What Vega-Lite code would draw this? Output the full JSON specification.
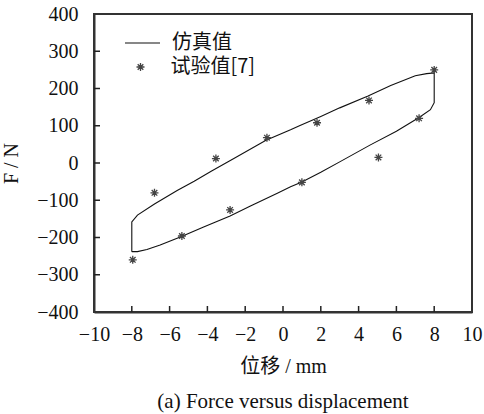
{
  "$schema": "https://vega.github.io/schema/vega-lite/v6.json",
  "width": 378,
  "height": 298,
  "autosize": {"type": "none"},
  "padding": {"left": 94, "top": 14, "right": 12, "bottom": 102},
  "background": "white",
  "title": {
    "text": "(a) Force versus displacement",
    "orient": "bottom",
    "anchor": "middle",
    "font": "Liberation Serif",
    "fontSize": 21,
    "fontWeight": "normal",
    "color": "#111",
    "offset": 15
  },
  "config": {
    "view": {"stroke": "#333", "strokeWidth": 2},
    "axis": {
      "grid": false,
      "ticks": false,
      "domainColor": "#333",
      "domainWidth": 2,
      "labelFont": "Liberation Serif",
      "labelFontSize": 20,
      "labelColor": "#111",
      "titleFont": "Liberation Serif, Noto Sans CJK SC",
      "titleFontSize": 20,
      "titleFontWeight": "normal",
      "titleColor": "#111"
    },
    "legend": {
      "orient": "none",
      "padding": 0,
      "labelFont": "Noto Sans CJK SC",
      "labelFontSize": 20,
      "labelColor": "#111"
    }
  },
  "datasets": {
    "simulated": [
      {"i": 0, "x": -8.0, "y": -238, "series": "仿真值"},
      {"i": 1, "x": -8.0, "y": -158, "series": "仿真值"},
      {"i": 2, "x": -7.7, "y": -140, "series": "仿真值"},
      {"i": 3, "x": -6.8, "y": -110, "series": "仿真值"},
      {"i": 4, "x": -5.6, "y": -74, "series": "仿真值"},
      {"i": 5, "x": -4.7, "y": -49, "series": "仿真值"},
      {"i": 6, "x": -3.8, "y": -22, "series": "仿真值"},
      {"i": 7, "x": -2.6, "y": 12, "series": "仿真值"},
      {"i": 8, "x": -0.9, "y": 61, "series": "仿真值"},
      {"i": 9, "x": 0.4, "y": 89, "series": "仿真值"},
      {"i": 10, "x": 0.9, "y": 101, "series": "仿真值"},
      {"i": 11, "x": 2.0, "y": 125, "series": "仿真值"},
      {"i": 12, "x": 3.0, "y": 148, "series": "仿真值"},
      {"i": 13, "x": 4.5, "y": 180, "series": "仿真值"},
      {"i": 14, "x": 5.7, "y": 208, "series": "仿真值"},
      {"i": 15, "x": 7.0, "y": 234, "series": "仿真值"},
      {"i": 16, "x": 7.6, "y": 240, "series": "仿真值"},
      {"i": 17, "x": 8.0, "y": 242, "series": "仿真值"},
      {"i": 18, "x": 8.0, "y": 162, "series": "仿真值"},
      {"i": 19, "x": 7.8, "y": 143, "series": "仿真值"},
      {"i": 20, "x": 7.2, "y": 122, "series": "仿真值"},
      {"i": 21, "x": 6.0, "y": 85, "series": "仿真值"},
      {"i": 22, "x": 4.6, "y": 48, "series": "仿真值"},
      {"i": 23, "x": 3.0, "y": 3, "series": "仿真值"},
      {"i": 24, "x": 2.0, "y": -25, "series": "仿真值"},
      {"i": 25, "x": 1.0, "y": -51, "series": "仿真值"},
      {"i": 26, "x": 0.4, "y": -64, "series": "仿真值"},
      {"i": 27, "x": -0.3, "y": -81, "series": "仿真值"},
      {"i": 28, "x": -1.75, "y": -116, "series": "仿真值"},
      {"i": 29, "x": -2.8, "y": -142, "series": "仿真值"},
      {"i": 30, "x": -4.2, "y": -172, "series": "仿真值"},
      {"i": 31, "x": -5.4, "y": -198, "series": "仿真值"},
      {"i": 32, "x": -6.5, "y": -220, "series": "仿真值"},
      {"i": 33, "x": -7.2, "y": -232, "series": "仿真值"},
      {"i": 34, "x": -7.7, "y": -238, "series": "仿真值"},
      {"i": 35, "x": -8.0, "y": -238, "series": "仿真值"}
    ],
    "measured": [
      {"x": -7.95, "y": -260, "series": "试验值"},
      {"x": -6.8, "y": -80, "series": "试验值"},
      {"x": -5.35, "y": -196, "series": "试验值"},
      {"x": -3.55, "y": 12, "series": "试验值"},
      {"x": -2.8, "y": -126, "series": "试验值"},
      {"x": -0.85, "y": 68, "series": "试验值"},
      {"x": 1.0, "y": -52, "series": "试验值"},
      {"x": 1.8, "y": 108, "series": "试验值"},
      {"x": 4.55, "y": 168, "series": "试验值"},
      {"x": 5.05, "y": 15, "series": "试验值"},
      {"x": 7.2, "y": 120, "series": "试验值"},
      {"x": 8.0, "y": 250, "series": "试验值"}
    ],
    "xTicks": [
      {"x": -8, "y": -400}, {"x": -6, "y": -400}, {"x": -4, "y": -400},
      {"x": -2, "y": -400}, {"x": 0, "y": -400}, {"x": 2, "y": -400},
      {"x": 4, "y": -400}, {"x": 6, "y": -400}, {"x": 8, "y": -400}
    ],
    "yTicks": [
      {"x": -10, "y": -300}, {"x": -10, "y": -200}, {"x": -10, "y": -100},
      {"x": -10, "y": 0}, {"x": -10, "y": 100}, {"x": -10, "y": 200},
      {"x": -10, "y": 300}
    ]
  },
  "encoding": {
    "x": {
      "field": "x",
      "type": "quantitative",
      "scale": {"domain": [-10, 10], "nice": false, "zero": false},
      "axis": {
        "title": "位移 / mm",
        "values": [-10, -8, -6, -4, -2, 0, 2, 4, 6, 8, 10],
        "labelFlush": false,
        "labelPadding": 12,
        "titlePadding": 12
      }
    },
    "y": {
      "field": "y",
      "type": "quantitative",
      "scale": {"domain": [-400, 400], "nice": false, "zero": false},
      "axis": {
        "title": "F / N",
        "values": [-400, -300, -200, -100, 0, 100, 200, 300, 400],
        "labelPadding": 16,
        "titlePadding": 15
      }
    }
  },
  "layer": [
    {
      "data": {"name": "xTicks"},
      "mark": {"type": "tick", "orient": "vertical", "size": 6, "thickness": 1.5, "color": "#222", "opacity": 1, "yOffset": -3}
    },
    {
      "data": {"name": "yTicks"},
      "mark": {"type": "tick", "orient": "horizontal", "size": 6, "thickness": 1.5, "color": "#222", "opacity": 1, "xOffset": 3}
    },
    {
      "data": {"name": "simulated"},
      "mark": {"type": "line", "strokeWidth": 1.1},
      "encoding": {
        "order": {"field": "i", "type": "quantitative"},
        "color": {
          "field": "series",
          "type": "nominal",
          "scale": {"domain": ["仿真值"], "range": ["#111"]},
          "legend": {
            "title": null,
            "legendX": 30,
            "legendY": 10.5,
            "symbolType": "stroke",
            "symbolSize": 1225,
            "symbolStrokeWidth": 1.1,
            "labelOffset": 11
          }
        }
      }
    },
    {
      "data": {"name": "measured"},
      "mark": {"type": "point", "filled": false, "stroke": "#444", "strokeWidth": 1.3, "size": 64, "opacity": 1},
      "encoding": {
        "shape": {
          "field": "series",
          "type": "nominal",
          "scale": {
            "domain": ["试验值"],
            "range": ["M-1,0L1,0M0,-1L0,1M-0.7,-0.7L0.7,0.7M-0.7,0.7L0.7,-0.7"]
          },
          "legend": {
            "title": null,
            "legendX": 36.5,
            "legendY": 43,
            "symbolSize": 64,
            "symbolStrokeWidth": 1.3,
            "symbolStrokeColor": "#444",
            "labelOffset": 20,
            "labelExpr": "datum.label + '[7]'"
          }
        }
      }
    }
  ]
}
